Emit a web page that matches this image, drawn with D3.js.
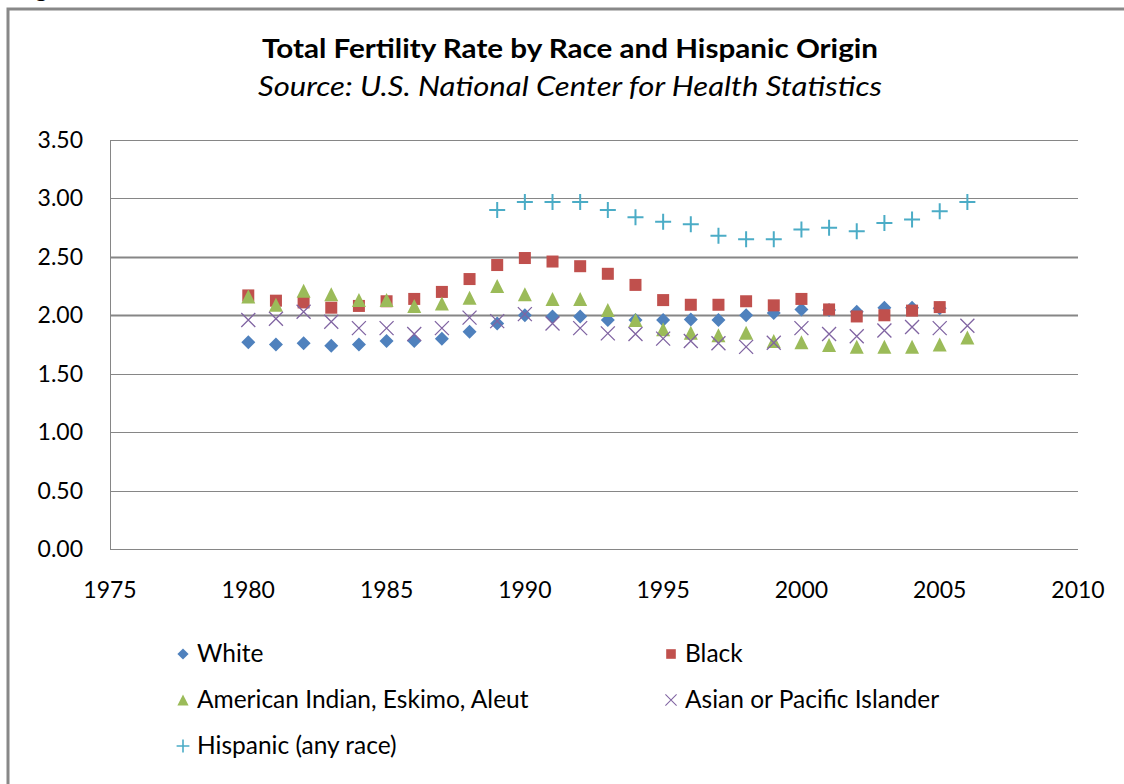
<!DOCTYPE html>
<html>
  <head>
    <meta charset="utf-8">
    <title>Total Fertility Rate</title>
    <script src="https://d3js.org/d3.v7.min.js"></script>
    <style>
      body { margin: 0; background: white; }
      text { font-family: Lato, "Open Sans", sans-serif; fill: #000; }
      .grid line { stroke: #868686; }
      .tick-label { font-size: 23px; }
      .legend text { font-size: 24.5px; }
    </style>
  </head>
  <body>
    <script>
      var years = d3.range(1980, 2007);
      var white = [1.77, 1.75, 1.76, 1.74, 1.75, 1.78, 1.78, 1.80, 1.86, 1.93, 2.00, 1.99, 1.99, 1.96, 1.96, 1.96, 1.965, 1.96, 2.00, 2.02, 2.05, 2.045, 2.03, 2.065, 2.065, 2.06, null];
      var black = [2.17, 2.125, 2.11, 2.065, 2.08, 2.12, 2.14, 2.20, 2.31, 2.43, 2.49, 2.46, 2.42, 2.355, 2.26, 2.13, 2.09, 2.09, 2.12, 2.085, 2.14, 2.05, 1.99, 2.00, 2.04, 2.07, null];
      var aian = [2.16, 2.09, 2.21, 2.18, 2.13, 2.13, 2.08, 2.10, 2.15, 2.25, 2.18, 2.14, 2.14, 2.045, 1.96, 1.88, 1.85, 1.83, 1.85, 1.78, 1.77, 1.745, 1.73, 1.73, 1.73, 1.75, 1.81];
      var asian = [1.96, 1.97, 2.03, 1.945, 1.89, 1.89, 1.84, 1.89, 1.98, 1.95, 2.01, 1.93, 1.89, 1.845, 1.84, 1.80, 1.78, 1.76, 1.73, 1.765, 1.89, 1.84, 1.82, 1.87, 1.90, 1.89, 1.91];
      var hispanic = [null, null, null, null, null, null, null, null, null, 2.90, 2.97, 2.97, 2.97, 2.90, 2.84, 2.80, 2.78, 2.68, 2.65, 2.65, 2.735, 2.75, 2.72, 2.79, 2.82, 2.89, 2.97];
      var seriesNames = ['White', 'Black', 'American Indian, Eskimo, Aleut', 'Asian or Pacific Islander', 'Hispanic (any race)'];
      var xTicks = [1975, 1980, 1985, 1990, 1995, 2000, 2005, 2010];
      var yTicks = [0, 0.5, 1, 1.5, 2, 2.5, 3, 3.5];

      var colors = ['#4F81BD', '#C0504D', '#9BBB59', '#8064A2', '#4BACC6'];
      var shapes = ['diamond', 'square', 'triangle', 'cross', 'plus'];
      var seriesData = [white, black, aian, asian, hispanic];

      var W = 1124, H = 784;
      var svg = d3.select('body').append('svg').attr('width', W).attr('height', H);

      // frame of the chart object
      svg.append('path').attr('d', 'M8,' + H + 'V9H' + W)
        .attr('fill', 'none').attr('stroke', '#888').attr('stroke-width', 3);
      svg.append('text').attr('x', 35).attr('y', -3).style('font-size', '24px').style('font-weight', 'bold').text('g');

      var x = d3.scaleLinear().domain([1975, 2010]).range([110, 1078]);
      var y = d3.scaleLinear().domain([0, 3.5]).range([549, 140]);

      svg.append('text').attr('x', 570).attr('y', 58).attr('text-anchor', 'middle')
        .attr('textLength', 616).attr('lengthAdjust', 'spacingAndGlyphs')
        .style('font-size', '27px').style('font-weight', 'bold').text('Total Fertility Rate by Race and Hispanic Origin');
      svg.append('text').attr('x', 570).attr('y', 96).attr('text-anchor', 'middle')
        .attr('textLength', 624).attr('lengthAdjust', 'spacingAndGlyphs')
        .style('font-size', '27px').style('font-style', 'italic').text('Source: U.S. National Center for Health Statistics');

      var grid = svg.append('g').attr('class', 'grid');
      grid.selectAll('line').data(yTicks).enter().append('line')
        .attr('x1', x(1975)).attr('x2', x(2010))
        .attr('y1', function(d){ return Math.round(y(d)) + 0.5 })
        .attr('y2', function(d){ return Math.round(y(d)) + 0.5 })
        .attr('stroke-width', function(d){ return (d == 2 || d == 2.5) ? 2 : 1 });
      grid.append('line').attr('x1', x(1975) + 0.5).attr('x2', x(1975) + 0.5)
        .attr('y1', y(3.5)).attr('y2', y(0));

      svg.selectAll('.ylab').data(yTicks).enter().append('text').attr('class', 'tick-label')
        .attr('x', 83).attr('y', function(d){ return y(d) + 8 }).attr('text-anchor', 'end')
        .text(function(d){ return d.toFixed(2) });
      svg.selectAll('.xlab').data(xTicks).enter().append('text').attr('class', 'tick-label')
        .attr('x', function(d){ return x(d) }).attr('y', 598).attr('text-anchor', 'middle')
        .text(function(d){ return d });

      function marker(sel, shape, color) {
        if (shape == 'diamond') sel.append('path').attr('d', 'M0,-7L7,0L0,7L-7,0Z').attr('fill', color);
        if (shape == 'square') sel.append('rect').attr('x', -6).attr('y', -6).attr('width', 12).attr('height', 12).attr('fill', color);
        if (shape == 'triangle') sel.append('path').attr('d', 'M0,-7L7,7L-7,7Z').attr('fill', color);
        if (shape == 'cross') sel.append('path').attr('d', 'M-7,-7L7,7M-7,7L7,-7').attr('stroke', color).attr('stroke-width', 1.3).attr('fill', 'none');
        if (shape == 'plus') sel.append('path').attr('d', 'M-8,0H8M0,-8V8').attr('stroke', color).attr('stroke-width', 2).attr('fill', 'none');
      }

      seriesData.forEach(function(vals, s){
        var pts = years.map(function(yr, i){ return { year: yr, v: vals[i] } })
          .filter(function(d){ return d.v != null });
        svg.append('g').selectAll('g').data(pts).enter().append('g')
          .attr('transform', function(d){ return 'translate(' + x(d.year) + ',' + y(d.v) + ')' })
          .each(function(){ marker(d3.select(this), shapes[s], colors[s]) });
      });

      // legend
      var legPos = [[183, 654], [671, 654], [183, 700], [671, 700], [183, 746]];
      var legend = svg.append('g').attr('class', 'legend');
      seriesNames.forEach(function(name, s){
        var g = legend.append('g').attr('transform', 'translate(' + legPos[s][0] + ',' + legPos[s][1] + ')');
        var m = g.append('g').attr('transform', 'scale(0.8)');
        marker(m, shapes[s], colors[s]);
        g.append('text').attr('x', 14).attr('y', 8).text(name);
      });
    </script>
  </body>
</html>
